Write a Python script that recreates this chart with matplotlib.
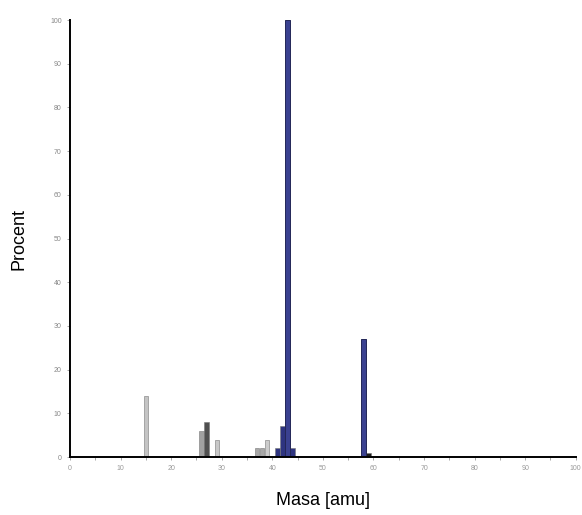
import numpy as np
import matplotlib.pyplot as plt

plt.rcParams['font.family'] = ['Liberation Sans', 'DejaVu Sans']

# widmo masowe: masa [amu] i intensywnosc wzgledna [%]
masses = [15, 26, 27, 29, 37, 38, 39, 41, 42, 43, 44, 58, 59]
intensity = [14, 6, 8, 4, 2, 2, 4, 2, 7, 100, 2, 27, 1]
colors = ['#c4c4c4', '#a0a0a0', '#505050', '#c8c8c8', '#a8a8a8', '#a8a8a8', '#cccccc',
          '#2e3480', '#2e3480', '#2e3480', '#2e3480', '#2e3480', '#1a1a1a']

xticks = np.arange(0, 101, 10)
yticks = np.arange(0, 101, 10)

fig = plt.figure(figsize=(5.82, 5.15), dpi=100)
ax = fig.add_axes([0.1203, 0.1126, 0.869, 0.8485])

ax.bar(masses, intensity, width=0.85, color=colors, edgecolor='#777777', linewidth=0.4)
# glowny pik i jon molekularny z ciemniejsza krawedzia
for m, v in zip(masses, intensity):
    if m in (43, 58):
        ax.bar(m, v, width=0.85, color='#3a4190', edgecolor='#1c1f50', linewidth=0.6)

ax.set_xlim(0, 100)
ax.set_ylim(0, 100)
ax.set_xticks(xticks)
ax.set_xticks(np.arange(0, 101, 5), minor=True)
ax.set_yticks(yticks)
ax.set_xticklabels([str(t) for t in xticks], fontsize=5, color='#999999')
ax.set_yticklabels([str(t) for t in yticks], fontsize=5, color='#888888')
ax.tick_params(axis='both', which='both', length=2, width=0.6, color='#999999', pad=4)

for s in ('top', 'right'):
    ax.spines[s].set_visible(False)
ax.spines['left'].set_linewidth(1.4)
ax.spines['bottom'].set_linewidth(1.4)

ax.set_xlabel('Masa [amu]', fontsize=13, labelpad=14)
ax.set_ylabel('Procent', fontsize=13, labelpad=16)

fig.savefig('out.png', dpi=100)
